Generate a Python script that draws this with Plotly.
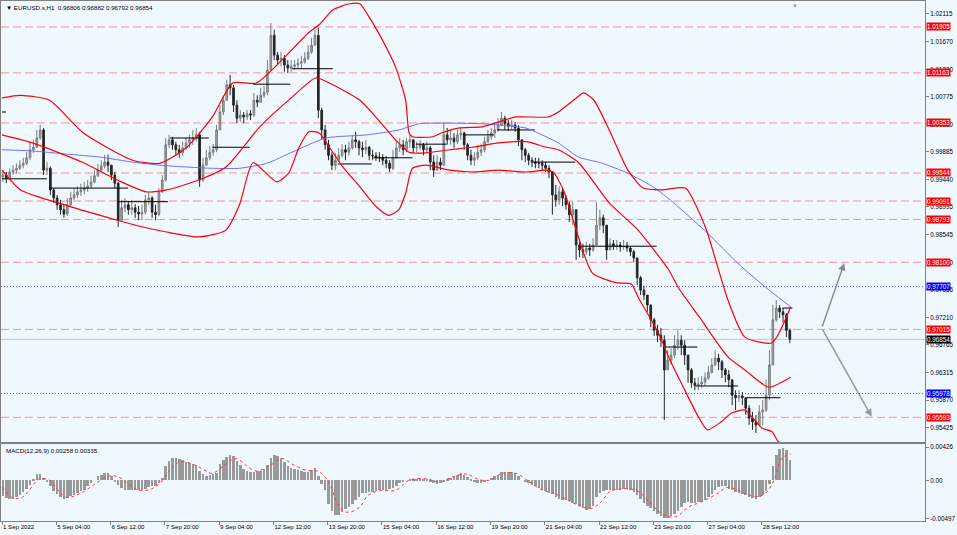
import plotly.graph_objects as go

# ── price bars (EURUSD, 2-hour bars) ───────────────────────────────────────
first_open = 0.9948
close = [
    0.9951, 0.9946, 0.9956, 0.9959, 0.9962, 0.9967, 0.9970, 0.9979, 0.9992, 0.9996,
    1.0011, 1.0024, 0.9959, 0.9962, 0.9927, 0.9914, 0.9903, 0.9895, 0.9888, 0.9903,
    0.9914, 0.9919, 0.9924, 0.9927, 0.9930, 0.9933, 0.9940, 0.9950, 0.9959, 0.9966,
    0.9972, 0.9967, 0.9951, 0.9938, 0.9878, 0.9898, 0.9903, 0.9895, 0.9898, 0.9891,
    0.9888, 0.9891, 0.9911, 0.9914, 0.9891, 0.9887, 0.9924, 0.9943, 1.0000, 1.0008,
    1.0000, 0.9992, 0.9987, 0.9995, 1.0003, 1.0008, 1.0011, 1.0016, 0.9943, 0.9967,
    0.9979, 0.9988, 0.9992, 1.0024, 1.0053, 1.0072, 1.0097, 1.0092, 1.0064, 1.0043,
    1.0048, 1.0045, 1.0050, 1.0048, 1.0072, 1.0069, 1.0080, 1.0085, 1.0121, 1.0177,
    1.0145, 1.0137, 1.0140, 1.0129, 1.0124, 1.0127, 1.0129, 1.0132, 1.0134, 1.0140,
    1.0150, 1.0161, 1.0177, 1.0056, 1.0024, 1.0000, 0.9983, 0.9967, 0.9975, 0.9983,
    0.9992, 0.9988, 0.9995, 1.0008, 1.0005, 0.9995, 0.9992, 0.9996, 0.9983, 0.9982,
    0.9980, 0.9979, 0.9975, 0.9970, 0.9962, 0.9979, 0.9995, 1.0000, 0.9992, 1.0005,
    1.0008, 0.9995, 0.9996, 1.0000, 0.9992, 0.9995, 0.9972, 0.9959, 0.9972, 0.9967,
    1.0016, 1.0008, 1.0011, 1.0005, 1.0016, 1.0019, 1.0000, 0.9983, 0.9975, 0.9979,
    0.9988, 0.9992, 1.0005, 1.0013, 1.0019, 1.0024, 1.0032, 1.0043, 1.0034, 1.0030,
    1.0032, 1.0027, 1.0008, 0.9992, 0.9983, 0.9975, 0.9972, 0.9970, 0.9970, 0.9967,
    0.9962, 0.9956, 0.9919, 0.9911, 0.9924, 0.9914, 0.9903, 0.9887, 0.9895, 0.9838,
    0.9830, 0.9827, 0.9833, 0.9830, 0.9838, 0.9870, 0.9882, 0.9870, 0.9830, 0.9840,
    0.9836, 0.9838, 0.9835, 0.9836, 0.9833, 0.9827, 0.9817, 0.9785, 0.9765, 0.9757,
    0.9741, 0.9717, 0.9700, 0.9692, 0.9684, 0.9636, 0.9652, 0.9660, 0.9676, 0.9684,
    0.9676, 0.9660, 0.9636, 0.9615, 0.9611, 0.9613, 0.9616, 0.9623, 0.9632, 0.9644,
    0.9655, 0.9649, 0.9636, 0.9628, 0.9620, 0.9595, 0.9591, 0.9594, 0.9591, 0.9574,
    0.9558, 0.9552, 0.9547, 0.9568, 0.9571, 0.9595, 0.9644, 0.9717, 0.9736, 0.9730,
    0.9725, 0.9700, 0.96854,
]
high = [
    0.9959, 0.9956, 0.9962, 0.9967, 0.9970, 0.9975, 0.9979, 0.9988, 1.0003, 1.0008,
    1.0024, 1.0032, 1.0027, 0.9972, 0.9965, 0.9930, 0.9919, 0.9911, 0.9903, 0.9914,
    0.9924, 0.9930, 0.9933, 0.9937, 0.9940, 0.9943, 0.9950, 0.9959, 0.9969, 0.9975,
    0.9984, 0.9984, 0.9967, 0.9956, 0.9940, 0.9911, 0.9914, 0.9908, 0.9911, 0.9904,
    0.9901, 0.9903, 0.9919, 0.9924, 0.9917, 0.9903, 0.9930, 0.9951, 1.0011, 1.0016,
    1.0013, 1.0005, 1.0000, 1.0005, 1.0011, 1.0016, 1.0024, 1.0027, 1.0021, 0.9979,
    0.9992, 0.9998, 1.0001, 1.0032, 1.0064, 1.0080, 1.0105, 1.0113, 1.0097, 1.0072,
    1.0056, 1.0053, 1.0056, 1.0056, 1.0084, 1.0080, 1.0092, 1.0095, 1.0137, 1.0197,
    1.0186, 1.0150, 1.0150, 1.0145, 1.0137, 1.0137, 1.0137, 1.0140, 1.0144, 1.0150,
    1.0161, 1.0173, 1.0186, 1.0189, 1.0060, 1.0032, 1.0008, 0.9988, 0.9987, 0.9995,
    1.0001, 1.0000, 1.0005, 1.0016, 1.0021, 1.0008, 1.0005, 1.0008, 0.9998, 0.9992,
    0.9988, 0.9988, 0.9985, 0.9982, 0.9975, 0.9992, 1.0008, 1.0011, 1.0008, 1.0011,
    1.0016, 1.0008, 1.0005, 1.0008, 1.0003, 1.0005, 0.9998, 0.9983, 0.9983, 0.9979,
    1.0037, 1.0027, 1.0024, 1.0019, 1.0024, 1.0027, 1.0021, 1.0003, 0.9992, 0.9988,
    1.0000, 1.0001, 1.0013, 1.0024, 1.0027, 1.0032, 1.0043, 1.0053, 1.0047, 1.0040,
    1.0040, 1.0037, 1.0032, 1.0008, 0.9995, 0.9987, 0.9980, 0.9979, 0.9979, 0.9975,
    0.9972, 0.9967, 0.9956, 0.9935, 0.9933, 0.9930, 0.9919, 0.9908, 0.9908, 0.9895,
    0.9846, 0.9840, 0.9843, 0.9840, 0.9849, 0.9907, 0.9895, 0.9887, 0.9870, 0.9849,
    0.9846, 0.9846, 0.9843, 0.9846, 0.9843, 0.9836, 0.9830, 0.9817, 0.9788, 0.9772,
    0.9757, 0.9741, 0.9720, 0.9709, 0.9704, 0.9692, 0.9668, 0.9671, 0.9692, 0.9700,
    0.9692, 0.9684, 0.9660, 0.9639, 0.9623, 0.9624, 0.9626, 0.9632, 0.9642, 0.9655,
    0.9668, 0.9662, 0.9652, 0.9639, 0.9636, 0.9620, 0.9603, 0.9603, 0.9600, 0.9591,
    0.9579, 0.9568, 0.9563, 0.9579, 0.9587, 0.9620, 0.9668, 0.9741, 0.9749, 0.9741,
    0.9736, 0.9728, 0.9703,
]
low = [
    0.9940, 0.9938, 0.9943, 0.9951, 0.9954, 0.9959, 0.9962, 0.9967, 0.9975, 0.9987,
    0.9995, 1.0008, 0.9951, 0.9951, 0.9919, 0.9906, 0.9895, 0.9887, 0.9882, 0.9885,
    0.9901, 0.9911, 0.9914, 0.9917, 0.9920, 0.9924, 0.9930, 0.9938, 0.9948, 0.9956,
    0.9962, 0.9956, 0.9943, 0.9930, 0.9867, 0.9875, 0.9891, 0.9887, 0.9887, 0.9882,
    0.9878, 0.9878, 0.9887, 0.9903, 0.9882, 0.9878, 0.9885, 0.9922, 0.9940, 0.9995,
    0.9992, 0.9982, 0.9979, 0.9982, 0.9992, 0.9995, 1.0000, 1.0005, 0.9932, 0.9940,
    0.9967, 0.9975, 0.9982, 0.9988, 1.0024, 1.0048, 1.0072, 1.0080, 1.0053, 1.0035,
    1.0037, 1.0035, 1.0040, 1.0040, 1.0045, 1.0061, 1.0068, 1.0076, 1.0080, 1.0121,
    1.0137, 1.0129, 1.0127, 1.0118, 1.0116, 1.0118, 1.0121, 1.0124, 1.0124, 1.0131,
    1.0137, 1.0147, 1.0161, 1.0043, 1.0008, 0.9992, 0.9975, 0.9959, 0.9959, 0.9972,
    0.9979, 0.9975, 0.9982, 0.9992, 0.9995, 0.9983, 0.9980, 0.9985, 0.9975, 0.9975,
    0.9974, 0.9972, 0.9967, 0.9962, 0.9956, 0.9959, 0.9979, 0.9988, 0.9983, 0.9988,
    0.9995, 0.9987, 0.9988, 0.9992, 0.9983, 0.9987, 0.9959, 0.9948, 0.9959, 0.9959,
    0.9966, 1.0000, 1.0000, 0.9995, 1.0001, 1.0008, 0.9992, 0.9975, 0.9967, 0.9966,
    0.9975, 0.9982, 0.9988, 1.0003, 1.0008, 1.0011, 1.0021, 1.0030, 1.0024, 1.0022,
    1.0024, 1.0021, 0.9998, 0.9975, 0.9972, 0.9967, 0.9964, 0.9962, 0.9962, 0.9959,
    0.9956, 0.9946, 0.9887, 0.9900, 0.9903, 0.9901, 0.9895, 0.9875, 0.9870, 0.9814,
    0.9818, 0.9817, 0.9822, 0.9820, 0.9827, 0.9838, 0.9862, 0.9857, 0.9814, 0.9830,
    0.9830, 0.9830, 0.9827, 0.9830, 0.9827, 0.9820, 0.9810, 0.9773, 0.9757, 0.9749,
    0.9730, 0.9705, 0.9691, 0.9681, 0.9673, 0.9555, 0.9636, 0.9644, 0.9655, 0.9668,
    0.9660, 0.9644, 0.9615, 0.9607, 0.9603, 0.9603, 0.9607, 0.9610, 0.9620, 0.9630,
    0.9642, 0.9636, 0.9623, 0.9616, 0.9608, 0.9579, 0.9571, 0.9584, 0.9579, 0.9563,
    0.9547, 0.9539, 0.9534, 0.9547, 0.9547, 0.9568, 0.9587, 0.9644, 0.9714, 0.9720,
    0.9713, 0.9689, 0.96792,
]

# ── Bollinger bands + slow MA, sampled along the curves (x = H1 bar index) ──
upper_idx = [0, 11, 28, 48, 77, 93, 109, 124, 136, 150, 165, 181, 187, 195, 205,
             211, 215, 222, 232, 238, 240, 242, 254, 259, 269, 283, 293, 303, 322,
             328, 337, 343, 349, 358, 369, 378, 389, 403, 411, 416, 428, 438, 454, 465]
upper = [1.0076, 1.0080, 1.0072, 1.0019, 0.9975, 0.9970, 0.9996, 1.0045, 1.0100,
         1.0100, 1.0137, 1.0182, 1.0194, 1.0218, 1.0228, 1.0228, 1.0213, 1.0181,
         1.0126, 1.0072, 1.0019, 1.0013, 1.0013, 1.0019, 1.0027, 1.0029, 1.0037,
         1.0045, 1.0045, 1.0053, 1.0072, 1.0084, 1.0072, 1.0024, 0.9959, 0.9930,
         0.9927, 0.9930, 0.9891, 0.9857, 0.9749, 0.9689, 0.9680, 0.9738]
mid_idx = [0, 18, 48, 68, 85, 97, 116, 132, 152, 171, 185, 195, 211, 222, 232, 240,
           250, 264, 277, 293, 309, 321, 328, 340, 358, 375, 393, 399, 411, 428, 438,
           452, 465]
mid = [1.0016, 1.0003, 0.9971, 0.9943, 0.9924, 0.9927, 0.9943, 0.9964, 1.0029,
       1.0077, 1.0108, 1.0097, 1.0072, 1.0040, 1.0008, 0.9988, 0.9987, 0.9992,
       0.9996, 1.0003, 1.0005, 0.9996, 0.9992, 0.9971, 0.9906, 0.9862, 0.9798,
       0.9768, 0.9722, 0.9657, 0.9636, 0.9608, 0.9624]
lower_idx = [0, 11, 38, 68, 83, 97, 116, 132, 140, 148, 162, 169, 175, 181, 187, 193,
             201, 211, 221, 228, 234, 238, 242, 250, 264, 277, 293, 309, 321, 325,
             331, 338, 348, 362, 371, 375, 387, 393, 401, 411, 416, 424, 430, 438,
             448, 454, 458, 465]
lower = [0.9959, 0.9927, 0.9902, 0.9878, 0.9867, 0.9859, 0.9851, 0.9862, 0.9903,
         0.9971, 0.9940, 0.9954, 0.9995, 1.0021, 1.0019, 0.9996, 0.9964, 0.9932,
         0.9899, 0.9886, 0.9895, 0.9922, 0.9962, 0.9967, 0.9959, 0.9956, 0.9959,
         0.9956, 0.9959, 0.9956, 0.9927, 0.9867, 0.9793, 0.9777, 0.9775, 0.9754,
         0.9696, 0.9657, 0.9612, 0.9558, 0.9539, 0.9552, 0.9566, 0.9571, 0.9542,
         0.9536, 0.9519, 0.9511]
ma_idx = [0, 18, 38, 58, 77, 93, 109, 124, 140, 156, 171, 191, 215, 234, 246, 264,
          283, 293, 309, 316, 328, 340, 353, 369, 385, 399, 416, 434, 450, 465]
ma = [0.9992, 0.9990, 0.9985, 0.9980, 0.9972, 0.9967, 0.9964, 0.9962, 0.9962, 0.9970,
      0.9988, 1.0011, 1.0016, 1.0024, 1.0034, 1.0035, 1.0034, 1.0032, 1.0027, 1.0019,
      1.0003, 0.9980, 0.9971, 0.9954, 0.9930, 0.9899, 0.9857, 0.9808, 0.9770, 0.9738]

# ── daily open segments (black) ────────────────────────────────────────────
day_start = [0, 0, 28, 68, 99, 124, 148, 171, 198, 219, 244, 272, 292, 313, 341, 390, 409, 439, 460]
day_end = [2.4, 26.5, 74.3, 97.9, 122, 146, 170, 195, 218, 242, 262, 290, 314, 338, 386, 410, 434, 459, 466]
day_open = [1.0053, 0.9945, 0.9930, 0.9908, 1.0011, 0.9996, 1.0098, 1.0123, 0.9969, 0.9979,
            1.0001, 1.0016, 1.0024, 0.9972, 0.9836, 0.9673, 0.9610, 0.9591, 0.9736]

# ── MACD(12,26,9): histogram per bar, signal sampled ───────────────────────
macd = [
    -0.0020, -0.0023, -0.0024, -0.0024, -0.0022, -0.0019, -0.0015, -0.0011, -0.0006, 0.0001,
    0.0008, 0.0008, 0.0003, -0.0001, -0.0008, -0.0014, -0.0018, -0.0021, -0.0024, -0.0023,
    -0.0020, -0.0019, -0.0016, -0.0014, -0.0012, -0.0008, -0.0004, 0.0000, 0.0005, 0.0007,
    0.0009, 0.0009, 0.0006, -0.0001, -0.0006, -0.0010, -0.0012, -0.0013, -0.0013, -0.0013,
    -0.0013, -0.0013, -0.0011, -0.0009, -0.0008, -0.0007, -0.0004, 0.0003, 0.0018, 0.0025,
    0.0028, 0.0028, 0.0027, 0.0026, 0.0024, 0.0022, 0.0021, 0.0019, 0.0012, 0.0008,
    0.0006, 0.0007, 0.0008, 0.0009, 0.0021, 0.0026, 0.0030, 0.0032, 0.0031, 0.0025,
    0.0019, 0.0015, 0.0012, 0.0011, 0.0011, 0.0012, 0.0012, 0.0014, 0.0020, 0.0029,
    0.0032, 0.0031, 0.0028, 0.0023, 0.0018, 0.0016, 0.0014, 0.0013, 0.0012, 0.0011,
    0.0011, 0.0013, 0.0016, 0.0005, -0.0005, -0.0012, -0.0031, -0.0040, -0.0045, -0.0045,
    -0.0041, -0.0037, -0.0034, -0.0030, -0.0025, -0.0021, -0.0017, -0.0016, -0.0015, -0.0015,
    -0.0014, -0.0013, -0.0013, -0.0012, -0.0011, -0.0010, -0.0007, -0.0004, -0.0002, 0.0000,
    0.0001, 0.0002, 0.0002, 0.0002, 0.0002, 0.0001, -0.0001, -0.0003, -0.0005, -0.0004,
    -0.0001, 0.0001, 0.0003, 0.0005, 0.0007, 0.0009, 0.0007, 0.0004, 0.0001, -0.0001,
    -0.0003, -0.0003, -0.0001, 0.0000, 0.0003, 0.0005, 0.0007, 0.0010, 0.0011, 0.0011,
    0.0010, 0.0009, 0.0005, 0.0000, -0.0002, -0.0004, -0.0006, -0.0008, -0.0010, -0.0012,
    -0.0014, -0.0016, -0.0018, -0.0021, -0.0024, -0.0025, -0.0026, -0.0027, -0.0029, -0.0031,
    -0.0033, -0.0035, -0.0038, -0.0037, -0.0033, -0.0022, -0.0016, -0.0014, -0.0013, -0.0012,
    -0.0012, -0.0012, -0.0012, -0.0011, -0.0011, -0.0012, -0.0015, -0.0019, -0.0024, -0.0029,
    -0.0033, -0.0036, -0.0040, -0.0043, -0.0046, -0.0048, -0.0048, -0.0046, -0.0043, -0.0039,
    -0.0034, -0.0029, -0.0028, -0.0029, -0.0029, -0.0028, -0.0028, -0.0025, -0.0021, -0.0018,
    -0.0013, -0.0009, -0.0008, -0.0008, -0.0011, -0.0013, -0.0015, -0.0017, -0.0018, -0.0019,
    -0.0021, -0.0023, -0.0024, -0.0022, -0.0019, -0.0014, -0.0005, 0.0018, 0.0032, 0.0040,
    0.0042, 0.0039, 0.00258,
]
sig_idx = [0, 6, 11, 16, 22, 28, 34, 38, 46, 54, 62, 68, 74, 81, 87, 93, 99, 105, 112,
           118, 124, 132, 138, 144, 150, 158, 165, 171, 179, 187, 193, 197, 201, 205,
           211, 216, 224, 232, 240, 250, 258, 265, 274, 281, 287, 295, 303, 311, 318,
           326, 334, 342, 348, 354, 358, 365, 374, 381, 389, 397, 405, 412, 421, 428,
           436, 444, 450, 456, 459, 463, 465]
sig_val = [-0.0009, -0.0022, -0.0023, -0.0013, 0.0002, 0.0000, -0.0015, -0.0022, -0.0017,
           -0.0006, 0.0005, 0.0005, -0.0004, -0.0013, -0.0012, -0.0004, 0.0013, 0.0024,
           0.0021, 0.0015, 0.0009, 0.0021, 0.0028, 0.0019, 0.0012, 0.0019, 0.0028, 0.0021,
           0.0013, 0.0011, -0.0004, -0.0026, -0.0039, -0.0041, -0.0034, -0.0019, -0.0013,
           -0.0013, 0.0000, 0.0002, -0.0002, 0.0004, 0.0008, 0.0001, 0.0000, 0.0009, 0.0009,
           -0.0002, -0.0012, -0.0017, -0.0026, -0.0034, -0.0036, -0.0026, -0.0015, -0.0011,
           -0.0013, -0.0026, -0.0043, -0.0047, -0.0034, -0.0028, -0.0018, -0.0009, -0.0015,
           -0.0021, -0.0017, 0.0004, 0.0026, 0.0033, 0.00335]

# ── levels, axis labels, arrows ────────────────────────────────────────────
red_levels = [1.01905, 1.01163, 1.00353, 0.99544, 0.99091, 0.98793, 0.98100, 0.97015, 0.95593]
blue_levels = [0.97707, 0.95978]
last_price = 0.96854
price_ticks = [1.02115, 1.01670, 1.01220, 1.00775, 1.00330, 0.99885, 0.99440, 0.98995,
               0.98545, 0.98100, 0.97655, 0.97210, 0.96765, 0.96315, 0.95870, 0.95425]
macd_ticks = [0.00426, 0.0, -0.00497]
macd_tick_text = ['0.00426', '0.00', '-0.00497']
time_idx = [0, 32, 64, 96, 128, 160, 192, 224, 256, 288, 320, 352, 384, 416, 448]
time_text = ['1 Sep 2022', '5 Sep 04:00', '6 Sep 12:00', '7 Sep 20:00', '9 Sep 04:00',
             '12 Sep 12:00', '13 Sep 20:00', '15 Sep 04:00', '16 Sep 12:00', '19 Sep 20:00',
             '21 Sep 04:00', '22 Sep 12:00', '23 Sep 20:00', '27 Sep 04:00', '28 Sep 12:00']
arrow_from = (483.3, 0.97037)
arrow_up = (496.6, 0.98088)
arrow_down = (512.8, 0.95603)

BG = '#f0f8ff'
FONT = 'Liberation Sans, Arial, sans-serif'
x_range = [-0.6, 544.2]

bar_x = [2 * k + 0.5 for k in range(len(close))]
opens = [first_open] + close[:-1]

fig = go.Figure()

fig.add_trace(go.Candlestick(
    x=bar_x, open=opens, high=high, low=low, close=close,
    increasing=dict(line=dict(color='#7c7c7c', width=1), fillcolor='#a8a8a8'),
    decreasing=dict(line=dict(color='#262626', width=1), fillcolor='#262626'),
    whiskerwidth=0, hoverinfo='skip', xaxis='x', yaxis='y',
))

# daily open lines
seg_x, seg_y = [], []
for s, e, v in zip(day_start, day_end, day_open):
    seg_x += [s, e, None]
    seg_y += [v, v, None]
fig.add_trace(go.Scatter(x=seg_x, y=seg_y, mode='lines',
                         line=dict(color='#000000', width=1), hoverinfo='skip'))

for idx, vals, col, w in [(ma_idx, ma, '#6f6fff', 1),
                          (upper_idx, upper, '#ff0000', 1.2),
                          (mid_idx, mid, '#ff0000', 1.2),
                          (lower_idx, lower, '#ff0000', 1.2)]:
    fig.add_trace(go.Scatter(x=idx, y=vals, mode='lines', hoverinfo='skip',
                             line=dict(color=col, width=w, shape='spline', smoothing=0.6)))

fig.add_trace(go.Bar(x=bar_x, y=macd, width=1.5, xaxis='x2', yaxis='y2',
                     marker=dict(color='#999999', line=dict(width=0)), hoverinfo='skip'))
fig.add_trace(go.Scatter(x=sig_idx, y=sig_val, mode='lines', xaxis='x2', yaxis='y2',
                         line=dict(color='#ff3a3a', width=1, dash='dot', shape='spline'),
                         hoverinfo='skip'))

# horizontal levels
shapes = []
for lv in red_levels:
    shapes.append(dict(type='line', xref='x domain', x0=0, x1=1, yref='y', y0=lv, y1=lv,
                       line=dict(color='rgba(255,90,90,0.65)', width=1, dash='8px,4px'), layer='below'))
for lv in blue_levels:
    shapes.append(dict(type='line', xref='x domain', x0=0, x1=1, yref='y', y0=lv, y1=lv,
                       line=dict(color='#5050ff', width=1, dash='1px,2px'), layer='below'))
shapes.append(dict(type='line', xref='x domain', x0=0, x1=1, yref='y', y0=last_price, y1=last_price,
                   line=dict(color='#c4c4c4', width=1), layer='below'))

annotations = []
for lv in red_levels:
    annotations.append(dict(x=1, xref='paper', xanchor='left', xshift=1, y=lv, yref='y',
                            text=f'{lv:.5f}', showarrow=False, bgcolor='#ff0000', borderpad=0,
                            font=dict(family=FONT, size=6.3, color='white')))
for lv in blue_levels:
    annotations.append(dict(x=1, xref='paper', xanchor='left', xshift=1, y=lv, yref='y',
                            text=f'{lv:.5f}', showarrow=False, bgcolor='#0000ff', borderpad=0,
                            font=dict(family=FONT, size=6.3, color='white')))
annotations.append(dict(x=1, xref='paper', xanchor='left', xshift=1, y=last_price, yref='y',
                        text=f'{last_price:.5f}', showarrow=False, bgcolor='#000000', borderpad=0,
                        font=dict(family=FONT, size=6.3, color='white')))

annotations.append(dict(x=0, xref='paper', xanchor='left', xshift=3, y=1, yref='paper',
                        yanchor='top', yshift=-1, showarrow=False,
                        text='▼ EURUSD.s,H1  0.96806 0.96882 0.96792 0.96854',
                        font=dict(family=FONT, size=6.2, color='#000000')))
annotations.append(dict(x=0, xref='paper', xanchor='left', xshift=3, y=1, yref='y2 domain',
                        yanchor='top', yshift=-1, showarrow=False,
                        text='MACD(12,26,9) 0.00258 0.00335',
                        font=dict(family=FONT, size=6.2, color='#000000')))
annotations.append(dict(x=467.5, xref='x', y=1, yref='paper', yanchor='top', showarrow=False,
                        text='▼', font=dict(size=6, color='#a0a0a0')))

for tip, col in [(arrow_up, '#8a8a8a'), (arrow_down, '#9a9a9a')]:
    annotations.append(dict(x=tip[0], y=tip[1], xref='x', yref='y',
                            ax=arrow_from[0], ay=arrow_from[1], axref='x', ayref='y',
                            text='', showarrow=True, arrowhead=2, arrowsize=1,
                            arrowwidth=1.5, arrowcolor=col, standoff=0))

axis_common = dict(showgrid=False, zeroline=False, showline=True, mirror=True,
                   linecolor='#808080', linewidth=1)

fig.update_layout(
    width=957, height=535,
    margin=dict(l=1, r=32, t=1, b=14),
    paper_bgcolor=BG, plot_bgcolor=BG,
    showlegend=False, bargap=0,
    font=dict(family=FONT, size=6.3, color='#000000'),
    shapes=shapes, annotations=annotations,
    xaxis=dict(domain=[0, 1], range=x_range, anchor='y', showticklabels=False, ticks='',
               rangeslider=dict(visible=False), **axis_common),
    xaxis2=dict(domain=[0, 1], range=x_range, anchor='y2', matches='x',
                tickvals=time_idx, ticktext=time_text, ticklabelposition='outside right',
                ticks='outside', ticklen=3, tickcolor='#808080',
                tickfont=dict(family=FONT, size=6.1), **axis_common),
    yaxis=dict(domain=[0.1519, 1], range=[0.95194, 1.02325], side='right', anchor='x',
               tickvals=price_ticks, ticktext=[f'{t:.5f}' for t in price_ticks],
               ticks='outside', ticklen=3, tickcolor='#808080',
               tickfont=dict(family=FONT, size=6.3), **axis_common),
    yaxis2=dict(domain=[0, 0.148], range=[-0.00523, 0.00466], side='right', anchor='x2',
                tickvals=macd_ticks, ticktext=macd_tick_text,
                ticks='outside', ticklen=3, tickcolor='#808080',
                tickfont=dict(family=FONT, size=6.3), **axis_common),
)

# page body has a default 8px margin; drop it so the figure sits at the window corner
fig.write_html('out.html', config={'displayModeBar': False},
               post_script="document.body.style.margin='0';")
